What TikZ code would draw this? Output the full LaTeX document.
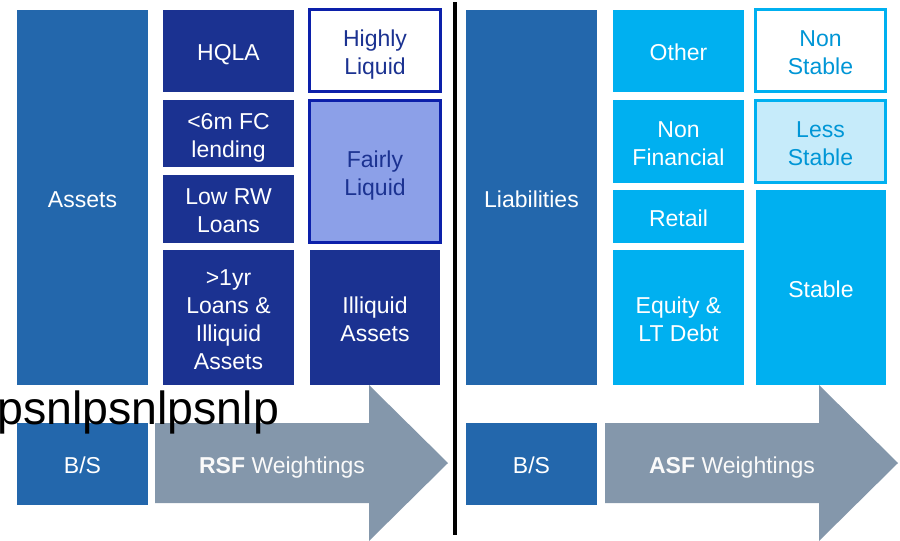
\documentclass[tikz,border=0pt]{standalone}
\usepackage{fontspec}
\setmainfont{Liberation Sans}
\usetikzlibrary{positioning}
\definecolor{bsblue}{RGB}{35,103,172}
\definecolor{assetnavy}{RGB}{27,50,145}
\definecolor{liqborder}{RGB}{12,32,170}
\definecolor{fairfill}{RGB}{140,160,232}
\definecolor{fundcyan}{RGB}{0,176,240}
\definecolor{lessfill}{RGB}{198,235,250}
\definecolor{cyantext}{RGB}{0,150,214}
\definecolor{weightgray}{RGB}{132,151,171}

\begin{document}
\begin{tikzpicture}[x=1pt, y=-1pt,
    box/.style={rectangle, inner sep=0pt, outer sep=0pt, align=center, text=white,
                font=\fontsize{23}{28}\selectfont, text height=22.8pt, text depth=2.9pt},
    twolines/.style={text height=50.8pt},
    fourlines/.style={text height=106.8pt},
    bsbox/.style={box, fill=bsblue, minimum width=131pt},
    assetbox/.style={box, fill=assetnavy, minimum width=131pt},
    liqbox/.style={box, draw=liqborder, line width=3pt, minimum width=131pt},
    fundbox/.style={box, fill=fundcyan, minimum width=131pt},
    stabbox/.style={box, draw=fundcyan, line width=3pt, minimum width=130pt},
    weight/.style={fill=weightgray},
    wlabel/.style={box, text=white!96!gray}]
    \useasboundingbox (0,0) rectangle (900,541);

    % asset side
    \node[bsbox, minimum height=375pt] (assets) at (82.5,197.5) {Assets};
    \node[assetbox, minimum height=82pt] (hqla) at (228.5,51) {HQLA};
    \node[assetbox, twolines, minimum height=67pt] (fclend) at (228.5,133.5) {<6m FC\\lending};
    \node[assetbox, twolines, minimum height=68pt] (lowrw) at (228.5,209) {Low RW\\Loans};
    \node[assetbox, fourlines, minimum height=135pt] (longloans) at (228.5,317.5) {>1yr\\Loans \&\\Illiquid\\Assets};
    \node[liqbox, twolines, fill=white, text=assetnavy, minimum height=82pt] (highly) at (375,50.5) {Highly\\Liquid};
    \node[liqbox, twolines, fill=fairfill, text=assetnavy, minimum height=142pt] (fairly) at (375,171.5) {Fairly\\Liquid};
    \node[assetbox, twolines, minimum width=130pt, minimum height=135pt] (illiquid) at (375,317.5) {Illiquid\\Assets};
    \node[bsbox, minimum height=82pt] (bsl) at (82.5,464) {B/S};

    % funding side
    \node[bsbox, minimum height=375pt] (liab) at (531.5,197.5) {Liabilities};
    \node[fundbox, minimum height=82pt] (other) at (678.5,51) {Other};
    \node[fundbox, twolines, minimum height=83pt] (nonfin) at (678.5,141.5) {Non\\Financial};
    \node[fundbox, minimum height=53pt] (retail) at (678.5,216.5) {Retail};
    \node[fundbox, twolines, minimum height=135pt] (equity) at (678.5,317.5) {Equity \&\\LT Debt};
    \node[stabbox, twolines, fill=white, text=cyantext, minimum height=82pt] (nonstable) at (820.5,50.5) {Non\\Stable};
    \node[stabbox, twolines, fill=lessfill, text=cyantext, minimum height=82pt] (lessstable) at (820.5,141.5) {Less\\Stable};
    \node[fundbox, minimum width=130pt, minimum height=195pt] (stable) at (821,287.5) {Stable};
    \node[bsbox, minimum height=82pt] (bsr) at (531.5,464) {B/S};

    % weighting arrows
    \fill[weight] (155,423) -- (369,423) -- (369,385) -- (448,463) -- (369,541)
        -- (369,503) -- (155,503) -- cycle;
    \fill[weight] (605,423) -- (819,423) -- (819,385) -- (898,463) -- (819,541)
        -- (819,503) -- (605,503) -- cycle;
    \node[wlabel] (rsf) at (282,463.5) {\textbf{RSF} Weightings};
    \node[wlabel] (asf) at (732,463.5) {\textbf{ASF} Weightings};

    \coordinate (divtop) at (455,2);
    \coordinate (divbot) at (455,535);
    \draw[line width=3.5pt] (divtop) -- (divbot);

    \node[anchor=base west, inner sep=0pt, font=\fontsize{46.5}{50}\selectfont] (stray) at (-3,424) {psnlpsnlpsnlp};
\end{tikzpicture}
\end{document}
